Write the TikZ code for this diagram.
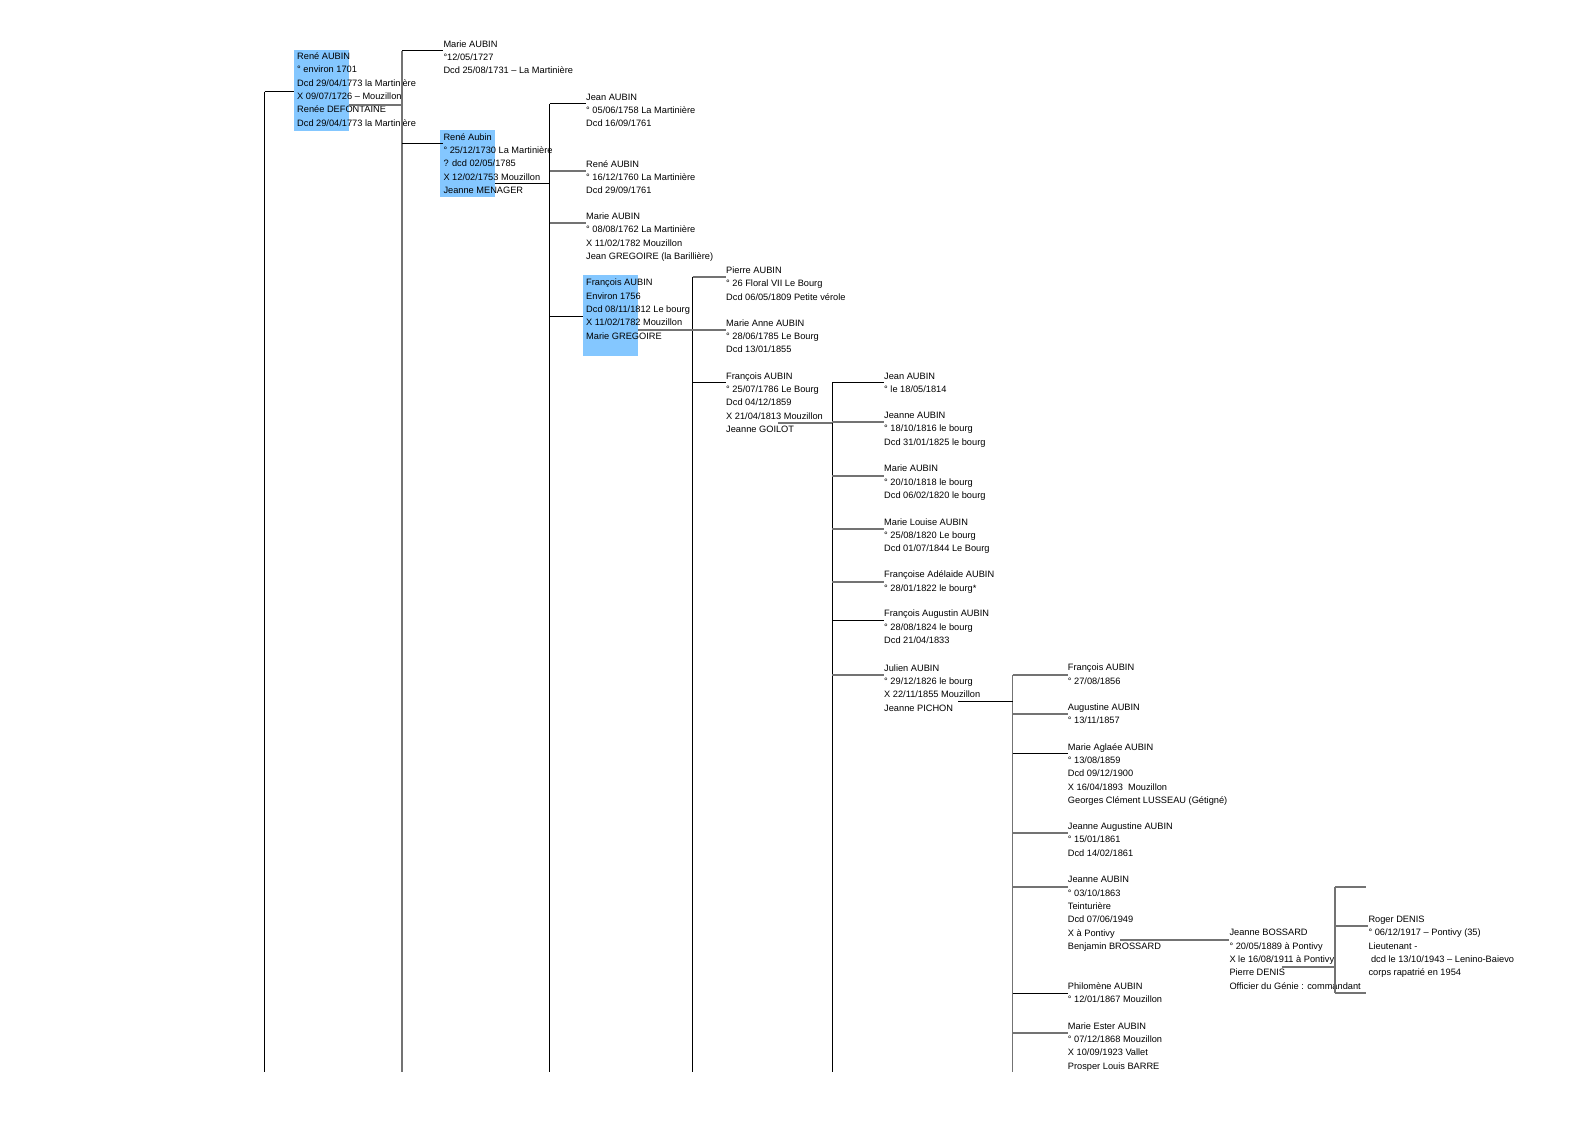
\documentclass[tikz,border=0pt]{standalone}
\usepackage{fontspec}
\setmainfont{Liberation Sans}
\usetikzlibrary{calc}

\definecolor{hlblue}{RGB}{132,199,255}
\tikzset{
  person/.style={anchor=north west, inner sep=0pt, align=left,
    font=\fontsize{9.25}{13.3}\selectfont},
  link/.style={draw=black, line width=1pt},
  glink/.style={draw=black!55, line width=1.8pt},
  hl/.style={fill=hlblue},
}
\newcommand{\branch}[3][link]{%
  \draw[#1] ([yshift=-13.3pt]#2 |- #3.north west) -- ([yshift=-13.3pt]#3.north west);}

\begin{document}
\begin{tikzpicture}[x=1pt, y=-1pt]
        \useasboundingbox[fill=white] (0,0) rectangle (1588,1123);

        % highlighted couples
        \fill[hl] (294.3,50) rectangle (349,130.7);
        \fill[hl] (440,130) rectangle (495,196.7);
        \fill[hl] (582.7,275) rectangle (637.7,355.7);

        % bars
        \coordinate (bot) at (0,1072);
        \coordinate (b0) at (264.5,91.7);
        \coordinate (b1) at (402,51);
        \coordinate (b2) at (549.5,104.3);
        \coordinate (b3) at (692.7,276.7);
        \coordinate (b4) at (832.3,383.3);
        \coordinate (b5) at (1012.5,675);
        \coordinate (b6) at (1335,886.7);
        \coordinate (b6end) at (1335,992.7);

        % generation 0
        \node[person] (rene0) at (297,50) {\strut René AUBIN\\° environ 1701\\Dcd 29/04/1773 la Martinière\\X 09/07/1726 – Mouzillon\\Renée DEFONTAINE\\Dcd 29/04/1773 la Martinière};

        % generation 1
        \node[person] (marie1) at (443.3,37.6) {\strut Marie AUBIN\\°12/05/1727\\Dcd 25/08/1731 – La Martinière};
        \node[person] (rene1) at (443.3,130.6) {\strut René Aubin\\° 25/12/1730 La Martinière\\? dcd 02/05/1785\\X 12/02/1753 Mouzillon\\Jeanne MENAGER};

        % generation 2
        \node[person] (jean2) at (586,90.6) {\strut Jean AUBIN\\° 05/06/1758 La Martinière\\Dcd 16/09/1761};
        \node[person] (rene2) at (586,157.6) {\strut René AUBIN\\° 16/12/1760 La Martinière\\Dcd 29/09/1761};
        \node[person] (marie2) at (586,210) {\strut Marie AUBIN\\° 08/08/1762 La Martinière\\X 11/02/1782 Mouzillon\\Jean GREGOIRE (la Barillière)};
        \node[person] (francois2) at (586,276.3) {\strut François AUBIN\\Environ 1756\\Dcd 08/11/1812 Le bourg\\X 11/02/1782 Mouzillon\\Marie GREGOIRE};

        % generation 3
        \node[person] (pierre3) at (726,264) {\strut Pierre AUBIN\\° 26 Floral VII Le Bourg\\Dcd 06/05/1809 Petite vérole};
        \node[person] (marieanne3) at (726,316.6) {\strut Marie Anne AUBIN\\° 28/06/1785 Le Bourg\\Dcd 13/01/1855};
        \node[person] (francois3) at (726,369.6) {\strut François AUBIN\\° 25/07/1786 Le Bourg\\Dcd 04/12/1859\\X 21/04/1813 Mouzillon\\Jeanne GOILOT};

        % generation 4
        \node[person] (jean4) at (884,369.6) {\strut Jean AUBIN\\° le 18/05/1814};
        \node[person] (jeanne4) at (884,409) {\strut Jeanne AUBIN\\° 18/10/1816 le bourg\\Dcd 31/01/1825 le bourg};
        \node[person] (marie4) at (884,462.3) {\strut Marie AUBIN\\° 20/10/1818 le bourg\\Dcd 06/02/1820 le bourg};
        \node[person] (marielouise4) at (884,515.6) {\strut Marie Louise AUBIN\\° 25/08/1820 Le bourg\\Dcd 01/07/1844 Le Bourg};
        \node[person] (francoise4) at (884,568.3) {\strut Françoise Adélaide AUBIN\\° 28/01/1822 le bourg*};
        \node[person] (augustin4) at (884,607.3) {\strut François Augustin AUBIN\\° 28/08/1824 le bourg\\Dcd 21/04/1833};
        \node[person] (julien4) at (884,661.6) {\strut Julien AUBIN\\° 29/12/1826 le bourg\\X 22/11/1855 Mouzillon\\Jeanne PICHON};

        % generation 5
        \node[person] (francois5) at (1067.7,661.3) {\strut François AUBIN\\° 27/08/1856};
        \node[person] (augustine5) at (1067.7,700.6) {\strut Augustine AUBIN\\° 13/11/1857};
        \node[person] (aglaee5) at (1067.7,740.6) {\strut Marie Aglaée AUBIN\\° 13/08/1859\\Dcd 09/12/1900\\X 16/04/1893\ \ Mouzillon\\Georges Clément LUSSEAU (Gétigné)};
        \node[person] (jeanneaug5) at (1067.7,820) {\strut Jeanne Augustine AUBIN\\° 15/01/1861\\Dcd 14/02/1861};
        \node[person] (jeanne5) at (1067.7,873.3) {\strut Jeanne AUBIN\\° 03/10/1863\\Teinturière\\Dcd 07/06/1949\\X à Pontivy\\Benjamin BROSSARD};
        \node[person] (philomene5) at (1067.7,980) {\strut Philomène AUBIN\\° 12/01/1867 Mouzillon};
        \node[person] (ester5) at (1067.7,1019.6) {\strut Marie Ester AUBIN\\° 07/12/1868 Mouzillon\\X 10/09/1923 Vallet\\Prosper Louis BARRE};

        % generations 6 and 7
        \node[person] (bossard6) at (1229.3,926.3) {\strut Jeanne BOSSARD\\° 20/05/1889 à Pontivy\\X le 16/08/1911 à Pontivy\\Pierre DENIS\\Officier du Génie : commandant};
        \node[person] (roger7) at (1368.3,913) {\strut Roger DENIS\\° 06/12/1917 – Pontivy (35)\\Lieutenant -\\\ dcd le 13/10/1943 – Lenino-Baievo\\corps rapatrié en 1954};

        % vertical bars
        \foreach \b in {b0,b2,b3,b4} \draw[link] (\b) -- (\b |- bot);
        \foreach \b in {b1,b5} \draw[glink] (\b) -- (\b |- bot);
        \draw[glink] (b6) -- (b6end);

        % children
        \coordinate (rene0In) at (294.3,91.7);
        \draw[link] (b0) -- (rene0In);
        \branch{b1}{marie1}
        \branch{b1}{rene1}
        \branch{b2}{jean2}
        \branch[glink]{b2}{rene2}
        \branch[glink]{b2}{marie2}
        \coordinate (francois2In) at (582.7,316.7);
        \draw[link] (b2 |- francois2In) -- (francois2In);
        \branch[glink]{b3}{pierre3}
        \branch[glink]{b3}{marieanne3}
        \branch{b3}{francois3}
        \branch{b4}{jean4}
        \branch[glink]{b4}{jeanne4}
        \branch[glink]{b4}{marie4}
        \branch[glink]{b4}{marielouise4}
        \branch[glink]{b4}{francoise4}
        \branch{b4}{augustin4}
        \branch[glink]{b4}{julien4}
        \branch[glink]{b5}{francois5}
        \branch[glink]{b5}{augustine5}
        \branch{b5}{aglaee5}
        \branch[glink]{b5}{jeanneaug5}
        \branch[glink]{b5}{jeanne5}
        \branch{b5}{philomene5}
        \branch[glink]{b5}{ester5}
        \branch[glink]{b6}{roger7}
        \coordinate (e1) at (1366,886.7);
        \coordinate (e2) at (1366,992.7);
        \draw[glink] (b6) -- (e1);
        \draw[glink] (b6end) -- (e2);

        % marriages
        \coordinate (s0) at (349,104.7);
        \coordinate (s1) at (495,184);
        \coordinate (s2) at (637.7,330);
        \coordinate (s3) at (778,422.7);
        \coordinate (s4) at (958.3,701.7);
        \coordinate (s5) at (1120,939.6);
        \coordinate (s6) at (1281.7,966.7);
        \draw[glink] (s0) -- (s0 -| b1);
        \draw[link] (s1) -- (s1 -| b2);
        \draw[glink] (s2) -- (s2 -| b3);
        \draw[glink] (s3) -- (s3 -| b4);
        \draw[link] (s4) -- (s4 -| b5);
        \draw[glink] (s5) -- ([yshift=-13.3pt]bossard6.north west);
        \draw[glink] (s6) -- (s6 -| b6);

\end{tikzpicture}
\end{document}
